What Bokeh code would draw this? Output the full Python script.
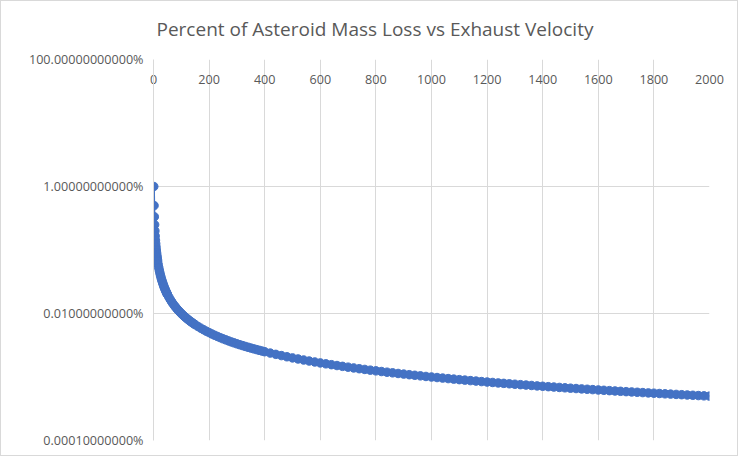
from bokeh.plotting import figure
from bokeh.models import FixedTicker, CustomJSTickFormatter, Range1d, ColumnDataSource
from bokeh.embed import file_html
from bokeh.resources import INLINE

title_text = "Percent of Asteroid Mass Loss vs Exhaust Velocity"

# Exhaust velocity (x) and percent mass loss (y, in percent)
velocity = [1, 2, 3, 4, 5, 6, 7, 8, 9, 10, 11, 12, 13, 14, 15,
            17, 19, 21, 23, 25, 27, 29, 31, 33, 35, 37, 39, 41, 43, 45, 47, 49,
            50, 55, 60, 65, 70, 75, 80, 85, 90, 95, 100, 105, 110, 115, 120, 125, 130, 135, 140, 145, 150,
            160, 170, 180, 190, 200, 210, 220, 230, 240, 250, 260, 270, 280, 290, 300,
            310, 320, 330, 340, 350, 360, 370, 380, 390, 400,
            420, 440, 460, 480, 500, 520, 540, 560, 580, 600, 620, 640, 660, 680, 700,
            720, 740, 760, 780, 800, 820, 840, 860, 880, 900, 920, 940, 960, 980, 1000,
            1020, 1040, 1060, 1080, 1100, 1120, 1140, 1160, 1180, 1200, 1220, 1240, 1260, 1280, 1300,
            1320, 1340, 1360, 1380, 1400, 1420, 1440, 1460, 1480, 1500, 1520, 1540, 1560, 1580, 1600,
            1620, 1640, 1660, 1680, 1700, 1720, 1740, 1760, 1780, 1800, 1820, 1840, 1860, 1880, 1900,
            1920, 1940, 1960, 1980, 2000]

mass_loss_pct = [1.0, 0.5, 0.3333, 0.25, 0.2, 0.1667, 0.1429, 0.125, 0.1111, 0.1, 0.0909, 0.0833, 0.0769, 0.0714, 0.0667,
                 0.0588, 0.0526, 0.0476, 0.0435, 0.04, 0.0370, 0.0345, 0.0323, 0.0303, 0.0286, 0.0270, 0.0256, 0.0244, 0.0233, 0.0222, 0.0213, 0.0204,
                 0.02, 0.01818, 0.01667, 0.01538, 0.01429, 0.01333, 0.0125, 0.01176, 0.01111, 0.01053, 0.01, 0.009524, 0.009091, 0.008696, 0.008333, 0.008, 0.007692, 0.007407, 0.007143, 0.006897, 0.006667,
                 0.00625, 0.005882, 0.005556, 0.005263, 0.005, 0.004762, 0.004545, 0.004348, 0.004167, 0.004, 0.003846, 0.003704, 0.003571, 0.003448, 0.003333,
                 0.003226, 0.003125, 0.003030, 0.002941, 0.002857, 0.002778, 0.002703, 0.002632, 0.002564, 0.0025,
                 0.002381, 0.002273, 0.002174, 0.002083, 0.002, 0.001923, 0.001852, 0.001786, 0.001724, 0.001667, 0.001613, 0.001563, 0.001515, 0.001471, 0.001429,
                 0.001389, 0.001351, 0.001316, 0.001282, 0.00125, 0.00122, 0.00119, 0.001163, 0.001136, 0.001111, 0.001087, 0.001064, 0.001042, 0.00102, 0.001,
                 0.0009804, 0.0009615, 0.0009434, 0.0009259, 0.0009091, 0.0008929, 0.0008772, 0.0008621, 0.0008475, 0.0008333, 0.0008197, 0.0008065, 0.0007937, 0.0007813, 0.0007692,
                 0.0007576, 0.0007463, 0.0007353, 0.0007246, 0.0007143, 0.0007042, 0.0006944, 0.0006849, 0.0006757, 0.0006667, 0.0006579, 0.0006494, 0.0006410, 0.0006329, 0.000625,
                 0.0006173, 0.0006098, 0.0006024, 0.0005952, 0.0005882, 0.0005814, 0.0005747, 0.0005682, 0.0005618, 0.0005556, 0.0005495, 0.0005435, 0.0005376, 0.0005319, 0.0005263,
                 0.0005208, 0.0005155, 0.0005102, 0.0005051, 0.0005]

x_ticks = [0, 200, 400, 600, 800, 1000, 1200, 1400, 1600, 1800, 2000]
y_ticks = [0.0001, 0.01, 1, 100]

BLUE = "#4472C4"
GRID = "#d9d9d9"
LABEL = "#595959"
FONT = "Open Sans"
TICK_FONT_SIZE = "12.6px"

p = figure(width=738, height=456, y_axis_type="log",
           x_range=Range1d(0, 2000), y_range=Range1d(0.0001, 100),
           output_backend="svg", toolbar_location=None, x_axis_location="above",
           min_border_left=152, min_border_right=30, min_border_top=58, min_border_bottom=17)
p.styles = {"border": "1px solid #d9d9d9"}
p.outline_line_color = None
p.background_fill_color = "white"
p.border_fill_color = "white"

p.title.text = title_text + "\n"
p.title.text_font = FONT
p.title.text_font_size = "19px"
p.title.text_font_style = "normal"
p.title.text_color = LABEL
p.title.text_line_height = 0.66
p.title.align = "left"
p.title.offset = 3
p.title.standoff = 0

# x axis along the top edge, labels pulled inside the plot area
xaxis = p.xaxis[0]
xaxis.ticker = FixedTicker(ticks=x_ticks)
xaxis.axis_line_color = None
xaxis.major_tick_line_color = None
xaxis.minor_tick_line_color = None
xaxis.major_tick_out = 0
xaxis.major_tick_in = 0
xaxis.major_label_standoff = -24
xaxis.major_label_text_font = FONT
xaxis.major_label_text_font_size = TICK_FONT_SIZE
xaxis.major_label_text_color = LABEL

yaxis = p.yaxis[0]
yaxis.ticker = FixedTicker(ticks=y_ticks)
yaxis.formatter = CustomJSTickFormatter(code="return tick.toFixed(11) + '%';")
yaxis.axis_line_color = GRID
yaxis.major_tick_line_color = None
yaxis.minor_tick_line_color = None
yaxis.major_tick_out = 0
yaxis.major_label_standoff = 10
yaxis.major_label_text_font = FONT
yaxis.major_label_text_font_size = TICK_FONT_SIZE
yaxis.major_label_text_color = LABEL

p.ygrid.ticker = FixedTicker(ticks=y_ticks)
p.ygrid.grid_line_color = GRID
p.xgrid.ticker = FixedTicker(ticks=x_ticks)
p.xgrid.grid_line_color = GRID

src = ColumnDataSource(dict(x=velocity, y=mass_loss_pct))
p.line("x", "y", source=src, line_color=BLUE, line_width=2.25)
p.scatter("x", "y", source=src, size=8.5, fill_color=BLUE, line_color=BLUE, line_width=1)

open("out.html", "w").write(file_html(p, INLINE))
